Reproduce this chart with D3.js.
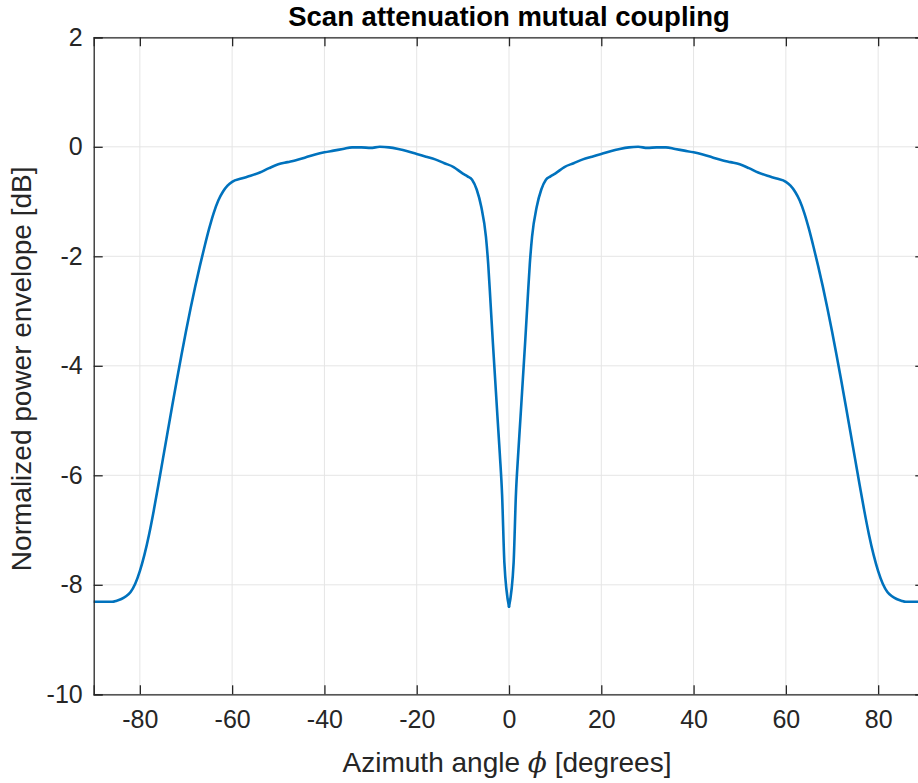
<!DOCTYPE html>
<html><head><meta charset="utf-8">
<script src="https://cdn.jsdelivr.net/npm/d3@7"></script>
<style>
html,body{margin:0;padding:0;background:#fff;}
svg{display:block;font-family:"Liberation Sans",Arial,Helvetica,sans-serif;}
</style></head>
<body><svg id="c" width="918" height="783"></svg>
<script>
const angles = [-90,-88,-86,-85,-84,-83,-82,-81,-80,-79,-78,-77,-76,-75,-74,-73,-72,-71,-70,-69,-68,-67,-66,-65,-64,-63,-62,-61,-60,-58,-56,-54,-52,-50,-48,-46,-44,-42,-40,-38,-36,-34,-32,-30,-28,-26,-24,-22,-20,-18,-16,-14,-12,-10,-9,-8,-7,-6,-5,-4.5,-4,-3.5,-3,-2.5,-2,-1.5,-1,0,
  1,1.5,2,2.5,3,3.5,4,4.5,5,6,7,8,9,10,12,14,16,18,20,22,24,26,28,30,32,34,36,38,40,42,44,46,48,50,52,54,56,58,60,61,62,63,64,65,66,67,68,69,70,71,72,73,74,75,76,77,78,79,80,81,82,83,84,85,86,88,90];
const power = [-8.31,-8.31,-8.31,-8.29,-8.26,-8.21,-8.13,-7.98,-7.75,-7.45,-7.08,-6.65,-6.18,-5.70,-5.22,-4.74,-4.27,-3.81,-3.37,-2.95,-2.55,-2.18,-1.83,-1.50,-1.21,-0.98,-0.82,-0.71,-0.64,-0.58,-0.53,-0.47,-0.39,-0.32,-0.28,-0.24,-0.19,-0.14,-0.10,-0.07,-0.04,-0.01,-0.01,-0.02,0.00,-0.01,-0.04,-0.08,-0.13,-0.18,-0.23,-0.30,-0.37,-0.49,-0.54,-0.60,-0.78,-1.10,-1.64,-2.15,-2.85,-3.57,-4.25,-4.93,-5.60,-6.35,-7.60,-8.40,
  -7.60,-6.35,-5.60,-4.93,-4.25,-3.57,-2.85,-2.15,-1.64,-1.10,-0.78,-0.60,-0.54,-0.49,-0.37,-0.30,-0.23,-0.18,-0.13,-0.08,-0.04,-0.01,0.00,-0.02,-0.01,-0.01,-0.04,-0.07,-0.10,-0.14,-0.19,-0.24,-0.28,-0.32,-0.39,-0.47,-0.53,-0.58,-0.64,-0.71,-0.82,-0.98,-1.21,-1.50,-1.83,-2.18,-2.55,-2.95,-3.37,-3.81,-4.27,-4.74,-5.22,-5.70,-6.18,-6.65,-7.08,-7.45,-7.75,-7.98,-8.13,-8.21,-8.26,-8.29,-8.31,-8.31,-8.31];
const xTicks = [-80,-60,-40,-20,0,20,40,60,80];
const yTicks = [2,0,-2,-4,-6,-8,-10];
const titleText = "Scan attenuation mutual coupling";
const yLabel = "Normalized power envelope [dB]";

const svg = d3.select("#c");
const L = 93.7, R = 924.3, T = 37.3, B = 694.3;
const x = d3.scaleLinear().domain([-90,90]).range([L,R]);
const y = d3.scaleLinear().domain([-10,2]).range([B,T]);
const axisCol = "#262626", gridCol = "#e5e5e5";
const fmt = d => String(d);

const g = svg.append("g");
g.selectAll("line.gx").data(xTicks).join("line")
  .attr("x1",d=>x(d)).attr("x2",d=>x(d)).attr("y1",T).attr("y2",B)
  .attr("stroke",gridCol).attr("stroke-width",1);
g.selectAll("line.gy").data(yTicks).join("line")
  .attr("x1",L).attr("x2",R).attr("y1",d=>y(d)).attr("y2",d=>y(d))
  .attr("stroke",gridCol).attr("stroke-width",1);

svg.append("clipPath").attr("id","clip").append("rect")
  .attr("x",L).attr("y",T).attr("width",R-L).attr("height",B-T);
const data = angles.map((a,i)=>[a,power[i]]);
const halves = [data.filter(d=>d[0]<=0), data.filter(d=>d[0]>=0)];
const lineGen = d3.line().x(d=>x(d[0])).y(d=>y(d[1])).curve(d3.curveMonotoneX);
svg.append("g").attr("clip-path","url(#clip)")
  .selectAll("path").data(halves).join("path")
  .attr("fill","none").attr("stroke","#0072BD").attr("stroke-width",2.6)
  .attr("stroke-linejoin","round").attr("stroke-linecap","round")
  .attr("d", lineGen);

const tl = 9;
const axB = svg.append("g").attr("transform",`translate(0,${B})`)
  .call(d3.axisBottom(x).tickValues(xTicks).tickSize(-tl).tickPadding(18).tickFormat(fmt));
const axT = svg.append("g").attr("transform",`translate(0,${T})`)
  .call(d3.axisTop(x).tickValues(xTicks).tickSize(-tl).tickFormat(""));
const axL = svg.append("g").attr("transform",`translate(${L},0)`)
  .call(d3.axisLeft(y).tickValues(yTicks).tickSize(-tl).tickPadding(19).tickFormat(fmt));
const axR = svg.append("g").attr("transform",`translate(${R},0)`)
  .call(d3.axisRight(y).tickValues(yTicks).tickSize(-tl).tickFormat(""));
[axB,axT,axL,axR].forEach(a=>{
  a.selectAll("path.domain").attr("stroke",axisCol).attr("stroke-width",1.3);
  a.selectAll(".tick line").attr("stroke",axisCol).attr("stroke-width",1.3);
  a.selectAll("text").attr("fill",axisCol).style("font-size","25px")
   .style("font-family","'Liberation Sans',Arial,sans-serif");
});
axB.selectAll("text").attr("dy","0.71em").attr("y",16);
axL.selectAll("text").attr("x",-11);

svg.append("text").attr("x",(L+R)/2).attr("y",26).attr("text-anchor","middle")
  .style("font-weight","bold").style("font-size","27.5px").attr("fill","#000").text(titleText);

const xl = svg.append("text").attr("x",(L+R)/2 - 2).attr("y",772).attr("text-anchor","middle")
  .style("font-size","28px").attr("fill",axisCol);
xl.append("tspan").text("Azimuth angle  ");
xl.append("tspan").style("font-family","'DejaVu Serif','Liberation Serif',serif").style("font-style","italic").text("\u03D5");
xl.append("tspan").text(" [degrees]");

svg.append("text").attr("transform",`translate(31,${(T+B)/2 + 3}) rotate(-90)`)
  .attr("text-anchor","middle").style("font-size","28px").attr("fill",axisCol).text(yLabel);
</script></body></html>
